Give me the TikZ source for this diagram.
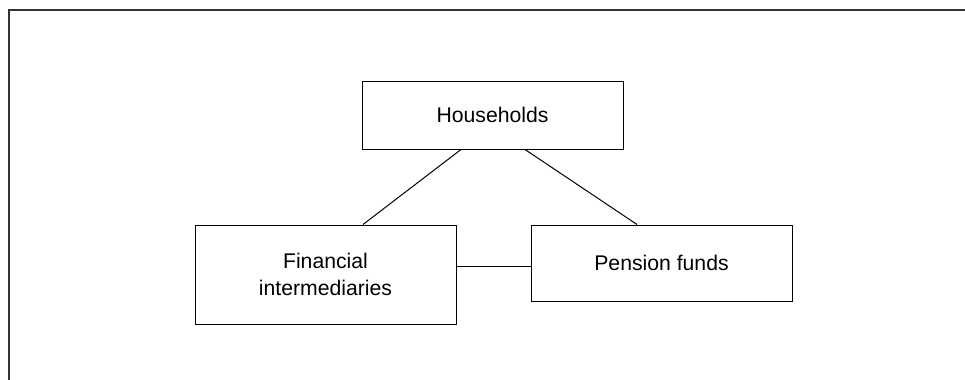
\documentclass[tikz,border=0pt]{standalone}
\usepackage{fontspec}
\setmainfont{Liberation Sans}
\begin{document}
\begin{tikzpicture}[x=0.5pt,y=-0.5pt,
    sectorbox/.style={draw,line width=0.5pt,minimum width=130.5pt,inner sep=0pt,
        align=center,font=\fontsize{10.6}{13.5}\selectfont},
    link/.style={line width=0.5pt}]
\useasboundingbox (0,0) rectangle (965,380);
% frame
\draw[line width=1pt,black!80] (9,380) -- (9,10) -- (965,10);
% sectors
\node[sectorbox,minimum height=34pt] (hh) at (492.5,115) {Households};
\node[sectorbox,minimum height=49.5pt] (fi) at (325.5,274.5) {Financial\\intermediaries};
\node[sectorbox,minimum height=38pt] (pf) at (661.5,263) {Pension funds};
% links
\draw[link] ([xshift=-15.75pt]hh.south) -- ([xshift=18.75pt]fi.north);
\draw[link] ([xshift=16.25pt]hh.south) -- ([xshift=-12.25pt]pf.north);
\draw[link] ([yshift=-1.5pt]pf.west -| fi.east) -- ([yshift=-1.5pt]pf.west);
\end{tikzpicture}
\end{document}
